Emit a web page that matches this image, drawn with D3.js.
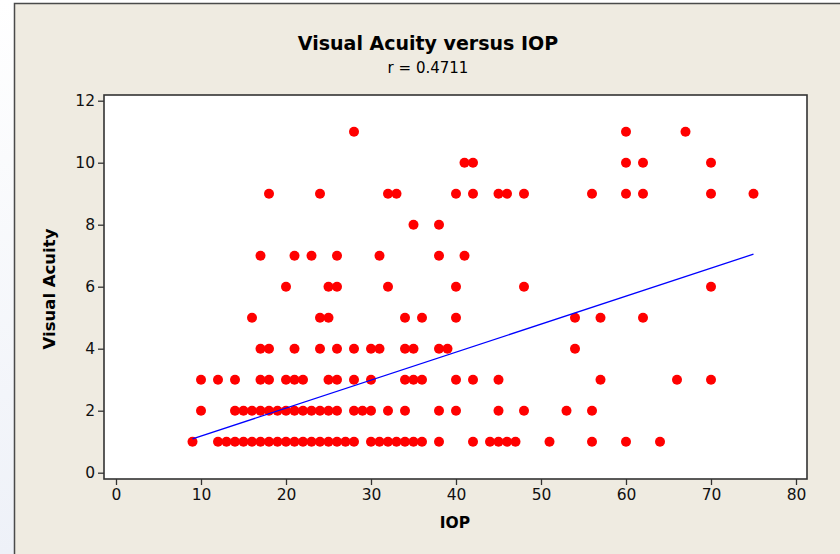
<!DOCTYPE html>
<html>
<head>
<meta charset="utf-8">
<script src="https://cdn.jsdelivr.net/npm/d3@7"></script>
<style>
  html, body { margin: 0; padding: 0; }
  body { width: 840px; height: 554px; overflow: hidden;
         background: linear-gradient(180deg, #ffffff 0%, #eef1f8 100%); }
  svg { display: block; }
</style>
</head>
<body>
<svg id="chart" width="840" height="554"></svg>
<script>
// IOP values per visual acuity level
const iop1 = [9, 12, 13, 14, 15, 16, 17, 18, 19, 20, 21, 22, 23, 24, 25, 26, 27, 28,
              30, 31, 32, 33, 34, 35, 36, 38, 42, 44, 45, 46, 47, 51, 56, 60, 64];
const iop2 = [10, 14, 15, 16, 17, 18, 19, 20, 21, 22, 23, 24, 25, 26, 28, 29, 30, 32,
              34, 38, 40, 45, 48, 53, 56];
const iop3 = [10, 12, 14, 17, 18, 20, 21, 22, 25, 26, 28, 30, 34, 35, 36, 40, 42, 45, 57, 66, 70];
const iop4 = [17, 18, 21, 24, 26, 28, 30, 31, 34, 35, 38, 39, 54];
const iop5 = [16, 24, 25, 34, 36, 40, 54, 57, 62];
const iop6 = [20, 25, 26, 32, 40, 48, 70];
const iop7 = [17, 21, 23, 26, 31, 38, 41];
const iop8 = [35, 38];
const iop9 = [18, 24, 32, 33, 40, 42, 45, 46, 48, 56, 60, 62, 70, 75];
const iop10 = [41, 42, 60, 62, 70];
const iop11 = [28, 60, 67];

const acuityLevels = [1, 2, 3, 4, 5, 6, 7, 8, 9, 10, 11];
const iopByLevel = [iop1, iop2, iop3, iop4, iop5, iop6, iop7, iop8, iop9, iop10, iop11];

// fitted line ends
const fitX = [9, 75];
const fitY = [1.09, 7.05];

const xTicks = [0, 10, 20, 30, 40, 50, 60, 70, 80];
const yTicks = [0, 2, 4, 6, 8, 10, 12];

const points = [];
acuityLevels.forEach((lvl, i) => {
  iopByLevel[i].forEach(v => points.push({ x: v, y: lvl }));
});

const svg = d3.select('#chart');
const font = 'Tahoma, "DejaVu Sans", sans-serif';

// outer panel
svg.append('rect')
  .attr('x', 14.5).attr('y', 3.5)
  .attr('width', 840).attr('height', 560)
  .attr('fill', '#efebe1')
  .attr('stroke', '#4a4a4a').attr('stroke-width', 1.5);

const frame = { left: 104, top: 95, right: 807, bottom: 479 };

const x = d3.scaleLinear().domain([0, 80]).range([116, 796]);
const y = d3.scaleLinear().domain([0, 12]).range([472.7, 100.7]);

svg.append('rect')
  .attr('x', frame.left).attr('y', frame.top)
  .attr('width', frame.right - frame.left)
  .attr('height', frame.bottom - frame.top)
  .attr('fill', '#ffffff');

// axes
const xAxis = svg.append('g')
  .attr('transform', `translate(0,${frame.bottom})`)
  .call(d3.axisBottom(x).tickValues(xTicks).tickSize(6).tickSizeOuter(0).tickPadding(4));
const yAxis = svg.append('g')
  .attr('transform', `translate(${frame.left},0)`)
  .call(d3.axisLeft(y).tickValues(yTicks).tickSize(6).tickSizeOuter(0).tickPadding(3));

[xAxis, yAxis].forEach(g => {
  g.select('.domain').remove();
  g.selectAll('line').attr('stroke', '#333').attr('stroke-width', 1.3);
  g.selectAll('text')
    .attr('fill', '#111')
    .style('font-family', font)
    .style('font-size', '15.5px');
});

// frame border
svg.append('rect')
  .attr('x', frame.left).attr('y', frame.top)
  .attr('width', frame.right - frame.left)
  .attr('height', frame.bottom - frame.top)
  .attr('fill', 'none')
  .attr('stroke', '#333').attr('stroke-width', 1.6);

// points
svg.append('g')
  .selectAll('circle')
  .data(points)
  .join('circle')
    .attr('cx', d => x(d.x))
    .attr('cy', d => y(d.y))
    .attr('r', 5)
    .attr('fill', '#ff0000');

// regression line
svg.append('line')
  .attr('x1', x(fitX[0])).attr('y1', y(fitY[0]))
  .attr('x2', x(fitX[1])).attr('y2', y(fitY[1]))
  .attr('stroke', '#0000ff').attr('stroke-width', 1.3);

// titles
svg.append('text')
  .attr('x', 428).attr('y', 50)
  .attr('text-anchor', 'middle')
  .style('font-family', font).style('font-size', '19px').style('font-weight', 'bold')
  .text('Visual Acuity versus IOP');
svg.append('text')
  .attr('x', 428).attr('y', 73)
  .attr('text-anchor', 'middle')
  .style('font-family', font).style('font-size', '15px')
  .text('r = 0.4711');
svg.append('text')
  .attr('x', 455).attr('y', 528)
  .attr('text-anchor', 'middle')
  .style('font-family', font).style('font-size', '15.5px').style('font-weight', 'bold')
  .text('IOP');
svg.append('text')
  .attr('transform', 'translate(55,289) rotate(-90)')
  .attr('text-anchor', 'middle')
  .style('font-family', font).style('font-size', '16.5px').style('font-weight', 'bold')
  .text('Visual Acuity');
</script>
</body>
</html>
